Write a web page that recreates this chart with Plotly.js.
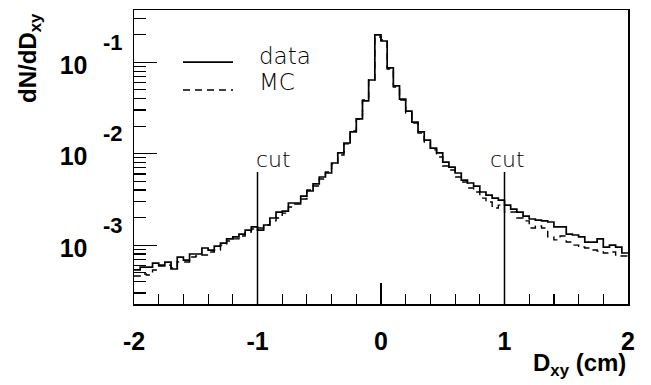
<!DOCTYPE html>
<html>
<head>
<meta charset="utf-8">
<script src="https://cdn.plot.ly/plotly-3.0.1.min.js"></script>
<style>html,body{margin:0;padding:0;background:#fff;}#chart{width:651px;height:385px;}</style>
</head>
<body>
<div id="chart"></div>
<script>
// Histogram binning
const binLo = -2;
const binWidth = 0.05;

// dN/dDxy, data (solid), one value per bin from -2 to 2
const dataVals = [
  5.35e-4, 5.75e-4, 5.75e-4, 6.37e-4, 6.05e-4, 6.53e-4, 5.48e-4, 7.41e-4, 6.87e-4, 8.0e-4,
  8.0e-4, 9.3e-4, 8.83e-4, 9.77e-4, 1.05e-3, 1.17e-3, 1.23e-3, 1.32e-3, 1.46e-3, 1.58e-3,
  1.46e-3, 1.66e-3, 1.98e-3, 2.30e-3, 2.36e-3, 2.89e-3, 2.89e-3, 3.44e-3, 3.91e-3, 4.67e-3,
  5.56e-3, 6.15e-3, 7.91e-3, 1.02e-2, 1.31e-2, 1.73e-2, 2.40e-2, 3.78e-2, 6.40e-2, 0.199,
  0.171, 0.0867, 0.0551, 0.0396, 0.0293, 0.0222, 0.0173, 0.0141, 0.0115, 0.0102,
  8.11e-3, 7.14e-3, 6.15e-3, 5.15e-3, 4.78e-3, 4.43e-3, 3.81e-3, 3.53e-3, 3.27e-3, 3.11e-3,
  2.74e-3, 2.48e-3, 2.30e-3, 2.08e-3, 1.93e-3, 1.88e-3, 1.84e-3, 1.79e-3, 1.58e-3, 1.58e-3,
  1.32e-3, 1.29e-3, 1.23e-3, 1.08e-3, 1.08e-3, 1.17e-3, 9.53e-4, 1.0e-3, 9.53e-4, 8.2e-4
];

// dN/dDxy, MC (dashed)
const mcVals = [
  4.59e-4, 4.83e-4, 4.71e-4, 5.35e-4, 5.90e-4, 6.05e-4, 5.62e-4, 6.53e-4, 6.53e-4, 7.41e-4,
  7.60e-4, 7.80e-4, 8.41e-4, 8.83e-4, 1.0e-3, 1.11e-3, 1.17e-3, 1.26e-3, 1.39e-3, 1.50e-3,
  1.54e-3, 1.66e-3, 1.84e-3, 1.98e-3, 2.24e-3, 2.61e-3, 2.82e-3, 3.19e-3, 4.01e-3, 4.43e-3,
  5.28e-3, 6.31e-3, 7.71e-3, 9.68e-3, 1.28e-2, 1.77e-2, 2.40e-2, 3.87e-2, 6.40e-2, 0.189,
  0.175, 0.0845, 0.0537, 0.0387, 0.0279, 0.0217, 0.0168, 0.0134, 0.0110, 9.2e-3,
  7.33e-3, 6.64e-3, 5.56e-3, 4.90e-3, 4.22e-3, 3.81e-3, 3.27e-3, 2.96e-3, 2.55e-3, 2.74e-3,
  2.30e-3, 2.30e-3, 1.98e-3, 1.84e-3, 1.54e-3, 1.62e-3, 1.54e-3, 1.23e-3, 1.14e-3, 1.26e-3,
  1.08e-3, 1.0e-3, 9.53e-4, 9.3e-4, 8.83e-4, 8.63e-4, 8.2e-4, 8.41e-4, 7.6e-4, 7.6e-4
];

// Cut positions and labels
const cutPositions = [-1, 1];
const cutLabel = 'cut';

// Tick labels
const xTickVals = [-2, -1, 0, 1, 2];
const xTickText = ['-2', '-1', '0', '1', '2'];
const yTickVals = [0.1, 0.01, 0.001];
const yTickText = ['10', '10', '10'];
const yTickExps = ['-1', '-2', '-3'];

const seriesNames = ['data', 'MC'];
const seriesDash = ['solid', '7px,5px'];

function edgesFor(vals) {
  const e = vals.map((_, i) => binLo + i * binWidth);
  e.push(binLo + vals.length * binWidth);
  return e;
}
function stepY(vals) { return vals.concat([vals[vals.length - 1]]); }

const traces = [
  {
    x: edgesFor(dataVals), y: stepY(dataVals), name: seriesNames[0],
    type: 'scatter', mode: 'lines', line: {shape: 'hv', color: '#000', width: 1.7, dash: seriesDash[0]}
  },
  {
    x: edgesFor(mcVals), y: stepY(mcVals), name: seriesNames[1],
    type: 'scatter', mode: 'lines', line: {shape: 'hv', color: '#000', width: 1.4, dash: seriesDash[1]}
  }
];

const boldFont = {family: 'Liberation Sans, Arial, sans-serif', size: 25, color: '#000', weight: 'bold'};
const lightFont = {family: 'DejaVu Sans, sans-serif', size: 22, color: '#000', weight: 300};

const annotations = [];
yTickVals.forEach((v, i) => {
  annotations.push({
    xref: 'paper', yref: 'y', x: -0.0415, y: Math.log10(v), yshift: 20,
    text: yTickExps[i], showarrow: false, xanchor: 'center', yanchor: 'middle',
    font: {family: 'Liberation Sans, Arial, sans-serif', size: 22, color: '#000', weight: 'bold'}
  });
});
cutPositions.forEach((c, i) => {
  annotations.push({
    xref: 'x', yref: 'paper', x: c, xshift: i === 0 ? 16 : 3, y: 0.49,
    text: cutLabel, showarrow: false, xanchor: 'center', yanchor: 'middle', font: lightFont
  });
});
// legend texts
const legendTextY = [0.844, 0.755];
const legendLineY = [0.823, 0.728];
seriesNames.forEach((n, i) => {
  annotations.push({
    xref: 'paper', yref: 'paper', x: 0.249, y: legendTextY[i], xanchor: 'left', yanchor: 'middle',
    text: n, showarrow: false, font: Object.assign({}, lightFont, {size: 23})
  });
});
annotations.push({
  xref: 'paper', yref: 'paper', x: 1.0, y: -0.205, xanchor: 'right', yanchor: 'middle',
  text: 'D<sub>xy</sub> (cm)', showarrow: false, font: Object.assign({}, boldFont, {size: 24})
});
annotations.push({
  xref: 'paper', yref: 'paper', x: -0.2105, y: 0.837, xanchor: 'center', yanchor: 'middle',
  textangle: -90, text: 'dN/dD<sub>xy</sub>', showarrow: false, font: Object.assign({}, boldFont, {size: 24})
});

const shapes = cutPositions.map(c => ({
  type: 'line', xref: 'x', yref: 'paper', x0: c, x1: c, y0: 0, y1: 0.449,
  line: {color: '#000', width: 1.5}
}));
seriesNames.forEach((n, i) => {
  shapes.push({
    type: 'line', xref: 'paper', yref: 'paper', x0: 0.0992, x1: 0.2004,
    y0: legendLineY[i], y1: legendLineY[i],
    line: {color: '#000', width: i === 0 ? 1.7 : 1.4, dash: seriesDash[i]}
  });
});

const layout = {
  width: 651, height: 385,
  margin: {l: 134, r: 23, t: 10, b: 81},
  paper_bgcolor: '#fff', plot_bgcolor: '#fff',
  showlegend: false,
  xaxis: {
    range: [-2, 2], showgrid: false, zeroline: false,
    showline: true, mirror: true, linecolor: '#000', linewidth: 1.5,
    tickmode: 'array', tickvals: xTickVals, ticktext: xTickText,
    ticks: 'inside', ticklen: 21, tickwidth: 1.2, tickcolor: '#000',
    tickfont: boldFont, ticklabelstandoff: 14,
    minor: {dtick: 0.2, tick0: 0, ticks: 'inside', ticklen: 10, tickwidth: 1.2, tickcolor: '#000', showgrid: false}
  },
  yaxis: {
    type: 'log', range: [-3.644, -0.428], showgrid: false, zeroline: false,
    showline: true, mirror: true, linecolor: '#000', linewidth: 1.5,
    tickmode: 'array', tickvals: yTickVals, ticktext: yTickText,
    ticks: 'inside', ticklen: 23, tickwidth: 1.2, tickcolor: '#000',
    tickfont: boldFont, ticklabelstandoff: 40, ticklabelshift: 3,
    minor: {dtick: 'D1', ticks: 'inside', ticklen: 12, tickwidth: 1.2, tickcolor: '#000', showgrid: false}
  },
  annotations: annotations,
  shapes: shapes
};

Plotly.newPlot('chart', traces, layout, {staticPlot: true, displayModeBar: false});
</script>
</body>
</html>
